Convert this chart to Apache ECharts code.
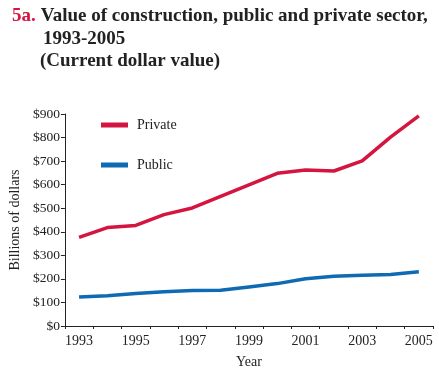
<!DOCTYPE html>
<html>
<head>
<meta charset="utf-8">
<script src="https://cdn.jsdelivr.net/npm/echarts@6/dist/echarts.min.js"></script>
<style>html,body{margin:0;padding:0;background:#fff;}#c{width:439px;height:374px;}</style>
</head>
<body>
<div id="c"></div>
<script>
const years = ['1993','1994','1995','1996','1997','1998','1999','2000','2001','2002','2003','2004','2005'];
const privateValues = [376, 418, 427, 473, 501, 550, 599, 648, 662, 658, 701, 802, 892];
const publicValues = [123, 128, 138, 145, 151, 152, 166, 180, 201, 211, 215, 219, 230];
const yTicks = [0, 100, 200, 300, 400, 500, 600, 700, 800, 900];

const serif = '"Liberation Serif", "DejaVu Serif", serif';
const chart = echarts.init(document.getElementById('c'));
chart.setOption({
  animation: false,
  backgroundColor: '#fff',
  title: [
    {
      left: 7, top: 2,
      text: '{a|5a.} {b|Value of construction, public and private sector,}',
      textStyle: { rich: {
        a: { fontFamily: serif, fontWeight: 'bold', fontSize: 19, color: '#d4153f' },
        b: { fontFamily: serif, fontWeight: 'bold', fontSize: 19, color: '#222' }
      } }
    },
    { left: 38, top: 25, text: '1993-2005', textStyle: { fontFamily: serif, fontWeight: 'bold', fontSize: 19, color: '#222' } },
    { left: 35, top: 47, text: '(Current dollar value)', textStyle: { fontFamily: serif, fontWeight: 'bold', fontSize: 19, color: '#222' } }
  ],
  legend: {
    orient: 'vertical', left: 101, top: 118, padding: 0,
    itemWidth: 27, itemHeight: 5, itemGap: 26, icon: 'rect',
    textStyle: { fontFamily: serif, fontSize: 14, color: '#222', padding: [0,0,0,4] },
    data: ['Private', 'Public']
  },
  grid: { left: 64, right: 6, top: 114, bottom: 46 },
  xAxis: {
    type: 'category', data: years, boundaryGap: true,
    name: 'Year', nameLocation: 'middle', nameGap: 29,
    nameTextStyle: { fontFamily: serif, fontSize: 14, color: '#222' },
    axisLine: { lineStyle: { color: '#222', width: 1 } },
    axisTick: { show: true, length: 3, inside: false, interval: 0, lineStyle: { color: '#222' } },
    axisLabel: { interval: 1, fontFamily: serif, fontSize: 14, color: '#222', margin: 8 },
    splitLine: { show: false }
  },
  yAxis: {
    type: 'value', min: yTicks[0], max: yTicks[yTicks.length - 1], interval: 100,
    name: 'Billions of dollars', nameLocation: 'middle', nameGap: 41,
    nameTextStyle: { fontFamily: serif, fontSize: 14, color: '#222' },
    axisLine: { show: true, lineStyle: { color: '#222', width: 1 } },
    axisTick: { show: true, length: 4, lineStyle: { color: '#222' } },
    axisLabel: { fontFamily: serif, fontSize: 13.5, color: '#222', margin: 5, formatter: v => '$' + v },
    splitLine: { show: false }
  },
  series: [
    { name: 'Private', type: 'line', data: privateValues, symbol: 'none', color: '#d4153f', lineStyle: { width: 3.5, color: '#d4153f' } },
    { name: 'Public', type: 'line', data: publicValues, symbol: 'none', color: '#0f6ab4', lineStyle: { width: 3.5, color: '#0f6ab4' } }
  ]
});
</script>
</body>
</html>
